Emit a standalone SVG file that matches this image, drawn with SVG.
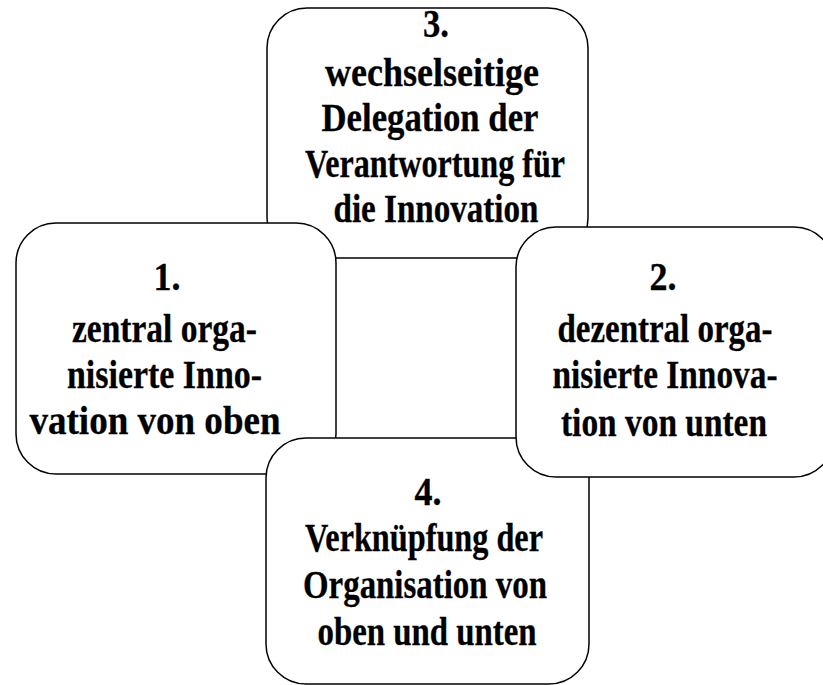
<svg xmlns="http://www.w3.org/2000/svg" width="823" height="685" viewBox="0 0 823 685">
<style>
.box{fill:#fff;stroke:#000;stroke-width:1.5}
.t{font-family:"Liberation Serif","Times New Roman",serif;font-size:40px;font-weight:bold;fill:#000;stroke:#000;stroke-width:0.3;text-anchor:middle}
</style>
<rect width="823" height="685" fill="#fff"/>
<g id="node3">
<rect class="box" x="267" y="8" width="321" height="250" rx="40" ry="40"/>
<text class="t" x="436" y="37" textLength="26" lengthAdjust="spacingAndGlyphs">3.</text>
<text class="t" x="432" y="86" textLength="214" lengthAdjust="spacingAndGlyphs">wechselseitige</text>
<text class="t" x="430" y="131" textLength="217" lengthAdjust="spacingAndGlyphs">Delegation der</text>
<text class="t" x="435" y="177" textLength="260" lengthAdjust="spacingAndGlyphs">Verantwortung für</text>
<text class="t" x="436" y="222" textLength="205" lengthAdjust="spacingAndGlyphs">die Innovation</text>
</g>
<g id="node1">
<rect class="box" x="16" y="223" width="320" height="251" rx="40" ry="40"/>
<text class="t" x="167" y="290" textLength="27" lengthAdjust="spacingAndGlyphs">1.</text>
<text class="t" x="164.5" y="342" textLength="185" lengthAdjust="spacingAndGlyphs">zentral orga-</text>
<text class="t" x="164.5" y="388" textLength="195" lengthAdjust="spacingAndGlyphs">nisierte Inno-</text>
<text class="t" x="155" y="434" textLength="251" lengthAdjust="spacingAndGlyphs">vation von oben</text>
</g>
<g id="node4">
<rect class="box" x="266" y="438" width="323" height="246" rx="40" ry="40"/>
<text class="t" x="428" y="505" textLength="27" lengthAdjust="spacingAndGlyphs">4.</text>
<text class="t" x="424" y="551" textLength="238" lengthAdjust="spacingAndGlyphs">Verknüpfung der</text>
<text class="t" x="425" y="598" textLength="244" lengthAdjust="spacingAndGlyphs">Organisation von</text>
<text class="t" x="427" y="645" textLength="219" lengthAdjust="spacingAndGlyphs">oben und unten</text>
</g>
<g id="node2">
<rect class="box" x="516" y="227" width="318" height="250" rx="40" ry="40"/>
<text class="t" x="663" y="290" textLength="27" lengthAdjust="spacingAndGlyphs">2.</text>
<text class="t" x="665" y="342" textLength="215" lengthAdjust="spacingAndGlyphs">dezentral orga-</text>
<text class="t" x="665" y="388" textLength="225" lengthAdjust="spacingAndGlyphs">nisierte Innova-</text>
<text class="t" x="664" y="436" textLength="206" lengthAdjust="spacingAndGlyphs">tion von unten</text>
</g>
<g id="connectors"></g>
</svg>
